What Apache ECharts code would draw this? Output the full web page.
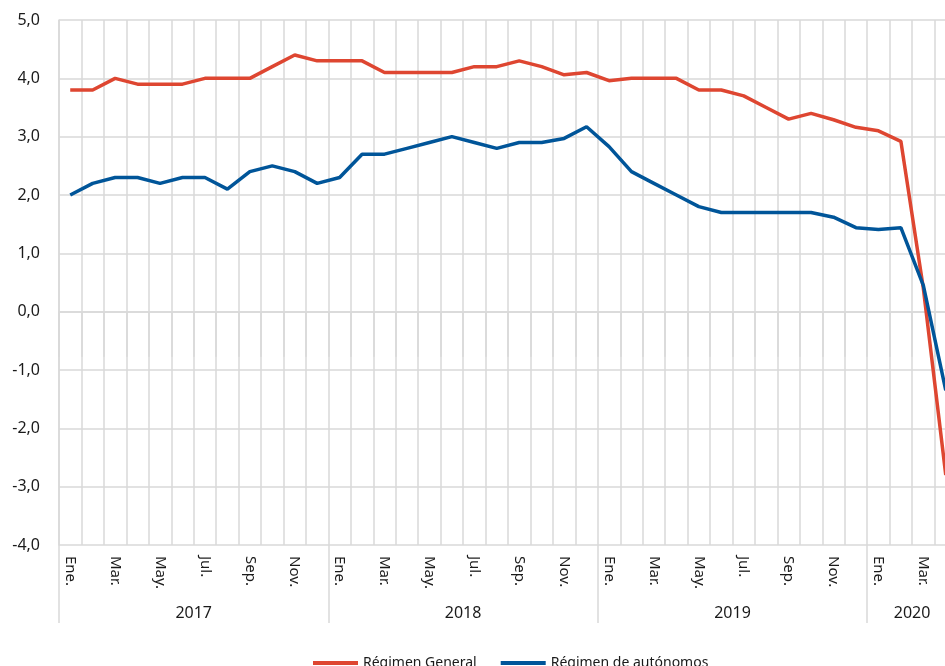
<!DOCTYPE html>
<html lang="es">
<head>
<meta charset="UTF-8">
<title>Afiliación</title>
<script src="https://cdn.jsdelivr.net/npm/echarts@6/dist/echarts.min.js"></script>
<style>
  html, body { margin: 0; padding: 0; background: #fff; overflow: hidden; }
  /* el gráfico original está recortado por la derecha: abril 2020 queda en el borde */
  #main { width: 957px; height: 666px; }
</style>
</head>
<body>
<div id="main"></div>
<script>
// meses Ene 2017 .. Abr 2020
const monthNames = ['Ene.', 'Feb.', 'Mar.', 'Abr.', 'May.', 'Jun.', 'Jul.', 'Ago.', 'Sep.', 'Oct.', 'Nov.', 'Dic.'];
const years = ['2017', '2018', '2019', '2020'];
const yearStarts = [0, 12, 24, 36];
const yearCenters = [6, 18, 30, 38];

const categories = [];
years.forEach(function (y, yi) {
  const n = yi === 3 ? 4 : 12;
  for (let m = 0; m < n; m++) categories.push(monthNames[m] + ' ' + y);
});

const regimenGeneral = [
  3.8, 3.8, 4.0, 3.9, 3.9, 3.9, 4.0, 4.0, 4.0, 4.2, 4.4, 4.3,
  4.3, 4.3, 4.1, 4.1, 4.1, 4.1, 4.2, 4.2, 4.3, 4.2, 4.06, 4.1,
  3.96, 4.0, 4.0, 4.0, 3.8, 3.8, 3.7, 3.5, 3.3, 3.4, 3.29, 3.16,
  3.1, 2.92, 0.4, -2.8
];
const regimenAutonomos = [
  2.0, 2.2, 2.3, 2.3, 2.2, 2.3, 2.3, 2.1, 2.4, 2.5, 2.4, 2.2,
  2.3, 2.7, 2.7, 2.8, 2.9, 3.0, 2.9, 2.8, 2.9, 2.9, 2.97, 3.17,
  2.83, 2.4, 2.2, 2.0, 1.8, 1.7, 1.7, 1.7, 1.7, 1.7, 1.62, 1.44,
  1.41, 1.44, 0.45, -1.35
];

const gridColor = '#d9d9d9';
const txtColor = '#1a1a1a';
const font = 'Noto Sans';

let chart = echarts.init(document.getElementById('main'), null, { renderer: 'canvas' });

let option = {
  animation: false,
  textStyle: { fontFamily: font },
  grid: { left: 59, top: 20, right: 0, height: 525, containLabel: false },
  legend: {
    left: 308,
    top: 651,
    icon: 'rect',
    itemWidth: 45,
    itemHeight: 4,
    itemGap: 24,
    textStyle: { fontSize: 14, color: txtColor, fontFamily: font },
    data: ['Régimen General', 'Régimen de autónomos']
  },
  xAxis: [
    {
      type: 'category',
      data: categories,
      boundaryGap: true,
      axisLine: { show: true, lineStyle: { color: gridColor, width: 1.5 } },
      axisTick: { show: true, interval: 0, length: 45, lineStyle: { color: gridColor, width: 1.5 } },
      splitLine: { show: true, interval: 0, lineStyle: { color: gridColor, width: 1.5 } },
      axisLabel: {
        interval: 1,
        rotate: -90,
        margin: 11,
        fontSize: 15,
        color: txtColor,
        formatter: function (v) { return v.split(' ')[0]; }
      }
    },
    {
      type: 'value',
      min: 0,
      max: 40,
      position: 'bottom',
      axisLine: { show: false },
      splitLine: { show: false },
      axisTick: { show: true, customValues: yearStarts, length: 78, lineStyle: { color: gridColor, width: 1.5 } },
      axisLabel: {
        customValues: yearCenters,
        margin: 60,
        fontSize: 16,
        color: txtColor,
        formatter: function (v) { return years[yearCenters.indexOf(v)]; }
      }
    }
  ],
  yAxis: {
    type: 'value',
    min: -4,
    max: 5,
    interval: 1,
    axisLine: { show: true, lineStyle: { color: gridColor, width: 1.5 } },
    axisTick: { show: false },
    splitLine: { show: true, lineStyle: { color: gridColor, width: 1.5 } },
    axisLabel: {
      margin: 19,
      fontSize: 16,
      color: txtColor,
      formatter: function (v) { return v.toFixed(1).replace('.', ','); }
    }
  },
  series: [
    {
      name: 'Régimen General',
      type: 'line',
      data: regimenGeneral,
      symbol: 'none',
      lineStyle: { color: '#de4631', width: 3.5 },
      itemStyle: { color: '#de4631' }
    },
    {
      name: 'Régimen de autónomos',
      type: 'line',
      data: regimenAutonomos,
      symbol: 'none',
      lineStyle: { color: '#005599', width: 3.5 },
      itemStyle: { color: '#005599' }
    }
  ]
};

chart.setOption(option);
</script>
</body>
</html>
